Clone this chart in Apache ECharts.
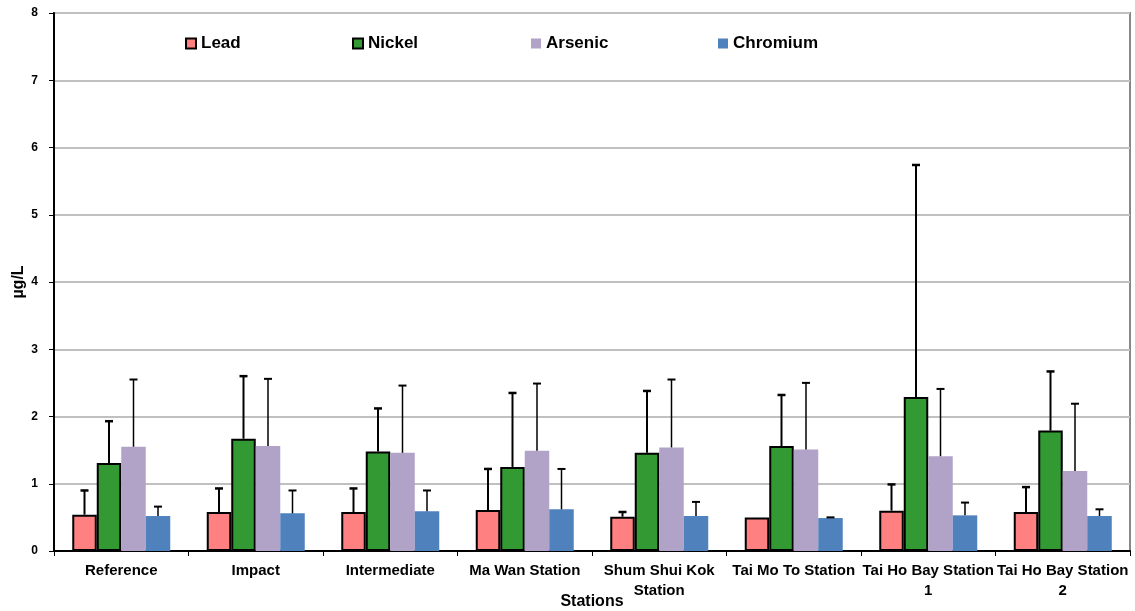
<!DOCTYPE html>
<html>
<head>
<meta charset="utf-8">
<script src="https://cdn.jsdelivr.net/npm/echarts@6/dist/echarts.min.js"></script>
<style>html,body{margin:0;padding:0;background:#fff}#c{width:1135px;height:611px}</style>
</head>
<body>
<div id="c"></div>
<script>
var categories = ['Reference', 'Impact', 'Intermediate', 'Ma Wan Station', 'Shum Shui Kok\nStation', 'Tai Mo To Station', 'Tai Ho Bay Station\n1', 'Tai Ho Bay Station\n2'];
var yTicks = [0, 1, 2, 3, 4, 5, 6, 7, 8];
var lead = [0.54, 0.58, 0.58, 0.61, 0.51, 0.50, 0.60, 0.58];
var leadSd = [0.36, 0.35, 0.35, 0.61, 0.07, 0.00, 0.39, 0.37];
var nickel = [1.31, 1.67, 1.48, 1.25, 1.46, 1.56, 2.29, 1.79];
var nickelSd = [0.62, 0.93, 0.64, 1.10, 0.92, 0.76, 3.45, 0.88];
var arsenic = [1.55, 1.56, 1.46, 1.49, 1.54, 1.51, 1.41, 1.19];
var arsenicSd = [1.00, 1.00, 1.00, 1.00, 1.01, 0.99, 1.00, 1.00];
var chromium = [0.52, 0.56, 0.59, 0.62, 0.52, 0.49, 0.53, 0.52];
var chromiumSd = [0.14, 0.34, 0.31, 0.60, 0.21, 0.01, 0.19, 0.10];

var BAR_W = 24.5;
var FONT = 'Liberation Sans, Arial, sans-serif';

var metals = [
  { name: 'Lead', values: lead, sd: leadSd, color: '#FF8080', border: true, lw: 2 },
  { name: 'Nickel', values: nickel, sd: nickelSd, color: '#339933', border: true, lw: 2 },
  { name: 'Arsenic', values: arsenic, sd: arsenicSd, color: '#B1A2C7', border: false, lw: 1.5 },
  { name: 'Chromium', values: chromium, sd: chromiumSd, color: '#4F81BD', border: false, lw: 1.5 }
];

var series = [];
metals.forEach(function (m, k) {
  series.push({
    name: m.name,
    type: 'bar',
    data: m.values,
    barWidth: BAR_W,
    barGap: '0%',
    itemStyle: {
      color: m.color,
      borderColor: m.border ? '#000' : m.color,
      borderWidth: m.border ? 2 : 0
    },
    z: 2
  });
});
metals.forEach(function (m, k) {
  var errData = m.values.map(function (v, i) { return [i, v, v + m.sd[i], m.sd[i]]; });
  series.push({
    name: m.name + ' error',
    type: 'custom',
    data: errData,
    encode: { x: 0, y: [1, 2] },
    z: 5,
    renderItem: function (params, api) {
      var sd = api.value(3);
      if (!(sd > 0.005)) return null;
      var idx = api.value(0);
      var p0 = api.coord([idx, api.value(1)]);
      var p1 = api.coord([idx, api.value(2)]);
      var x = p0[0] + (k - 1.5) * BAR_W;
      var cap = 4;
      var st = { stroke: '#000', lineWidth: m.lw };
      return {
        type: 'group',
        children: [
          { type: 'line', shape: { x1: x, y1: p0[1], x2: x, y2: p1[1] }, style: st },
          { type: 'line', shape: { x1: x - cap, y1: p1[1], x2: x + cap, y2: p1[1] }, style: { stroke: '#000', lineWidth: m.lw + 0.5 } }
        ]
      };
    }
  });
});

var legendLefts = [180, 347, 526, 713];
var legends = metals.map(function (m, k) {
  return {
    data: [m.name],
    left: legendLefts[k],
    top: 30,
    itemWidth: 10,
    itemHeight: 10,
    icon: 'rect',
    textStyle: { fontFamily: FONT, fontSize: 17, fontWeight: 'bold', color: '#000' }
  };
});

var chart = echarts.init(document.getElementById('c'));
chart.setOption({
  animation: false,
  backgroundColor: '#fff',
  legend: legends,
  grid: { left: 54, right: 5, top: 13, bottom: 60, show: true, borderColor: '#888', borderWidth: 2, containLabel: false, outerBoundsMode: 'none' },
  xAxis: {
    type: 'category',
    data: categories,
    name: 'Stations',
    nameLocation: 'middle',
    nameGap: 43,
    nameMoveOverlap: false,
    nameTextStyle: { fontFamily: FONT, fontSize: 16, fontWeight: 'bold', color: '#000' },
    axisLine: { lineStyle: { color: '#000', width: 2 } },
    axisTick: { show: true, alignWithLabel: false, length: 5, lineStyle: { color: '#000', width: 1 } },
    axisLabel: { interval: 0, fontFamily: FONT, fontSize: 15, fontWeight: 'bold', color: '#000', margin: 10, lineHeight: 20 },
    splitLine: { show: false }
  },
  yAxis: {
    type: 'value',
    min: yTicks[0],
    max: yTicks[yTicks.length - 1],
    interval: 1,
    name: 'µg/L',
    nameLocation: 'middle',
    nameGap: 27,
    nameMoveOverlap: false,
    nameRotate: 90,
    nameTextStyle: { fontFamily: FONT, fontSize: 16, fontWeight: 'bold', color: '#000' },
    axisLine: { show: true, lineStyle: { color: '#000', width: 2 } },
    axisTick: { show: true, length: 5, lineStyle: { color: '#000', width: 1 } },
    axisLabel: { fontFamily: FONT, fontSize: 12, fontWeight: 'bold', color: '#000', margin: 16 },
    splitLine: { show: true, lineStyle: { color: '#C0C0C0', width: 2 } }
  },
  series: series
});
</script>
</body>
</html>
